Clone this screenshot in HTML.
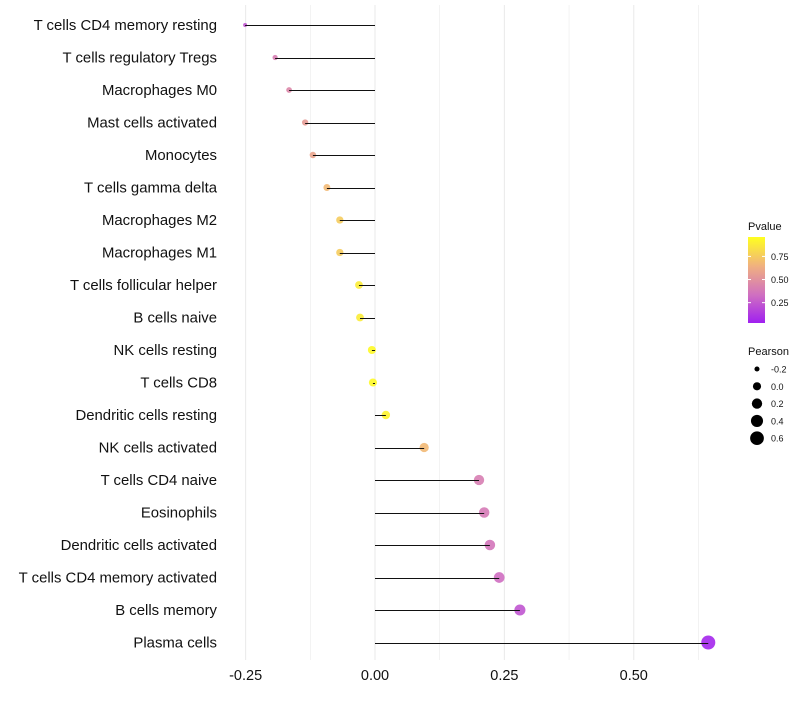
<!DOCTYPE html>
<html><head><meta charset="utf-8"><style>
body{margin:0;background:#fff;font-family:"Liberation Sans",sans-serif}
svg text{font-family:"Liberation Sans",sans-serif}
</style></head><body>
<svg id="c" width="800" height="700"></svg>
<script>
const categories=["T cells CD4 memory resting","T cells regulatory  Tregs","Macrophages M0","Mast cells activated","Monocytes","T cells gamma delta","Macrophages M2","Macrophages M1","T cells follicular helper","B cells naive","NK cells resting","T cells CD8","Dendritic cells resting","NK cells activated","T cells CD4 naive","Eosinophils","Dendritic cells activated","T cells CD4 memory activated","B cells memory","Plasma cells"];
const pearson=[-0.251,-0.193,-0.166,-0.135,-0.12,-0.093,-0.068,-0.068,-0.031,-0.029,-0.006,-0.004,0.021,0.095,0.201,0.211,0.222,0.240,0.280,0.644];
const pvalues=[0.22,0.4,0.45,0.55,0.6,0.7,0.78,0.78,0.92,0.92,0.98,0.98,0.95,0.7,0.4,0.38,0.36,0.32,0.22,0.03];
const xTicks=[-0.25,0,0.25,0.5];
const xTickLabels=["-0.25","0.00","0.25","0.50"];
const sizeLegend=[-0.2,0,0.2,0.4,0.6];
const colorTicks=[0.25,0.5,0.75];

const NS="http://www.w3.org/2000/svg",svg=document.getElementById('c');
function el(t,a,p){const e=document.createElementNS(NS,t);for(const k in a)e.setAttribute(k,a[k]);(p||svg).appendChild(e);return e;}
const x=v=>375+v*517.5;
const y=i=>25+i*32.5;
const r=v=>Math.sqrt(Math.max(1,16.6+v*50.6));
function lerp(a,b,t){return a.map((c,i)=>Math.round(c+(b[i]-c)*t));}
const stops=[[0,[160,32,240]],[0.33,[208,112,192]],[0.66,[240,176,128]],[1,[255,255,32]]];
function col(p){for(let i=0;i<stops.length-1;i++){if(p<=stops[i+1][0]){const t=(p-stops[i][0])/(stops[i+1][0]-stops[i][0]);const c=lerp(stops[i][1],stops[i+1][1],t);return `rgb(${c})`;}}return 'rgb(255,255,32)';}
for(let v=-0.25;v<=0.63;v+=0.125){const g=el('line',{x1:x(v),x2:x(v),y1:5,y2:660,stroke:'#ebebeb','stroke-width':Math.abs((v*8)%2)<0.01?1.1:0.6});

}
xTicks.forEach((v,i)=>{const t=el('text',{x:x(v),y:680,'text-anchor':'middle','font-size':14.5,fill:'#111'});t.textContent=xTickLabels[i];

});
categories.forEach((c,i)=>{
const t=el('text',{x:217,y:y(i)+5,'text-anchor':'end','font-size':14.9,fill:'#111'});t.textContent=c;


const d=el('circle',{cx:x(pearson[i]),cy:y(i),r:r(pearson[i]),fill:col(pvalues[i]),'fill-opacity':0.9});


const l=el('line',{x1:x(0),x2:x(pearson[i]),y1:Math.round(y(i))+0.5,y2:Math.round(y(i))+0.5,stroke:'#111','stroke-width':1});


});
const defs=el('defs',{});const lg=el('linearGradient',{id:'g',x1:0,y1:1,x2:0,y2:0},defs);
stops.forEach(s=>el('stop',{offset:s[0],'stop-color':`rgb(${s[1]})`},lg));
const lt=el('text',{x:748,y:230,'font-size':11,fill:'#111'});lt.textContent='Pvalue';


const bar=el('rect',{x:748,y:237,width:17,height:86,fill:'url(#g)'});


colorTicks.forEach(p=>{const yy=323-(p-0.03)/0.93*86;const t=el('text',{x:771,y:yy+3.5,'font-size':9,fill:'#111'});t.textContent=p.toFixed(2);


el('line',{x1:748,x2:751,y1:yy,y2:yy,stroke:'#fff'});el('line',{x1:762,x2:765,y1:yy,y2:yy,stroke:'#fff'});});
const st=el('text',{x:748,y:355,'font-size':11,fill:'#111'});st.textContent='Pearson';


sizeLegend.forEach((v,i)=>{const yy=369+i*17.3;const c=el('circle',{cx:757,cy:yy,r:r(v),fill:'#000'});


const t=el('text',{x:771,y:yy+3.5,'font-size':9,fill:'#111'});t.textContent=v.toFixed(1);

});
</script>
</body></html>
